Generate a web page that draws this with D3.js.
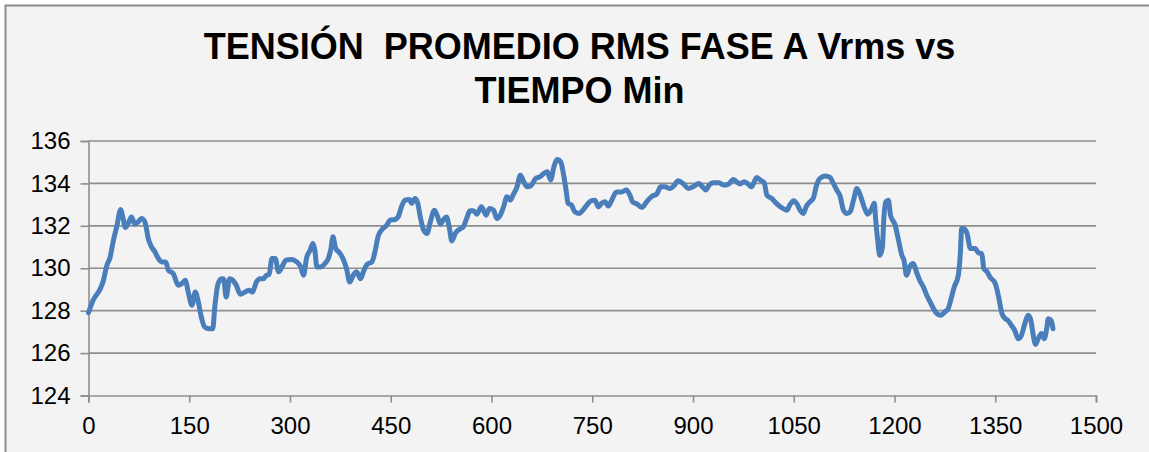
<!DOCTYPE html>
<html>
<head>
<meta charset="utf-8">
<script src="https://cdn.jsdelivr.net/npm/d3@7"></script>
<style>
  html, body { margin: 0; padding: 0; background: #ffffff; }
  svg { display: block; }
</style>
</head>
<body>
<svg id="chart" width="1149" height="452"></svg>
<script>
// Chart data
const titleLines = ['TENSIÓN  PROMEDIO RMS FASE A Vrms vs', 'TIEMPO Min'];
const xTicks = [0, 150, 300, 450, 600, 750, 900, 1050, 1200, 1350, 1500];
const yTicks = [124, 126, 128, 130, 132, 134, 136];

const minutes = [
  0, 7, 17, 22, 27, 32, 37, 42, 48, 51, 55, 59, 64, 69, 74, 79, 84, 89, 94, 99,
  104, 109, 115, 119, 126, 134, 139, 144, 149, 154, 159, 163, 168, 173, 180, 185, 188, 193, 198, 201,
  205, 210, 215, 220, 226, 233, 239, 244, 250, 255, 260, 265, 269, 273, 278, 283, 288, 294, 302, 310,
  316, 320, 325, 330, 334, 337, 340, 345, 352, 357, 361, 364, 368, 374, 379, 384, 389, 395, 399, 405,
  410, 415, 422, 427, 431, 437, 444, 449, 456, 461, 466, 471, 478, 481, 486, 490, 494, 499, 504, 509,
  515, 519, 524, 528, 533, 537, 541, 546, 552, 558, 563, 568, 573, 578, 585, 592, 597, 603, 608, 613,
  618, 623, 628, 632, 638, 643, 648, 653, 658, 666, 672, 678, 683, 688, 693, 698, 703, 707, 711, 714,
  719, 724, 731, 736, 742, 748, 754, 759, 764, 769, 774, 779, 786, 794, 801, 806, 810, 816, 824, 831,
  839, 846, 852, 858, 866, 871, 878, 886, 893, 900, 909, 914, 919, 924, 930, 939, 945, 953, 960, 965,
  970, 976, 982, 987, 995, 1000, 1006, 1010, 1017, 1022, 1027, 1034, 1040, 1044, 1050, 1055, 1060, 1064, 1069, 1074,
  1079, 1084, 1089, 1097, 1104, 1109, 1114, 1119, 1124, 1129, 1134, 1139, 1144, 1149, 1155, 1160, 1165, 1170, 1172, 1175,
  1178, 1182, 1184, 1187, 1191, 1194, 1201, 1206, 1211, 1214, 1218, 1223, 1228, 1233, 1238, 1243, 1248, 1253, 1258, 1263,
  1269, 1275, 1280, 1285, 1289, 1295, 1298, 1300, 1303, 1308, 1313, 1320, 1325, 1330, 1333, 1338, 1342, 1350, 1355, 1360,
  1365, 1369, 1374, 1379, 1384, 1389, 1394, 1399, 1403, 1407, 1410, 1414, 1419, 1423, 1427, 1429, 1433, 1436
];

const vrms = [
  127.9, 128.5, 129.0, 129.4, 130.1, 130.5, 131.3, 131.95, 132.77, 132.42, 131.92, 132.11, 132.42, 132.08, 132.19, 132.35, 132.19, 131.4, 131.0, 130.77,
  130.46, 130.3, 130.3, 129.9, 129.75, 129.2, 129.28, 129.43, 128.8, 128.25, 128.88, 128.49, 127.7, 127.23, 127.15, 127.15, 128.17, 129.28, 129.51, 129.5,
  128.65, 129.51, 129.43, 129.2, 128.77, 128.88, 128.96, 128.88, 129.35, 129.51, 129.5, 129.67, 129.7, 130.46, 130.46, 129.83, 130.06, 130.38, 130.41, 130.3,
  130.06, 129.67, 130.53, 130.85, 131.17, 130.85, 130.06, 130.06, 130.22, 130.46, 130.93, 131.48, 130.93, 130.72, 130.45, 130.0, 129.35, 129.72, 129.83, 129.51,
  129.9, 130.19, 130.3, 130.85, 131.48, 131.83, 132.03, 132.27, 132.3, 132.42, 132.9, 133.21, 133.24, 133.06, 133.29, 133.09, 132.42, 131.8, 131.64, 132.19,
  132.74, 132.5, 132.08, 132.27, 132.42, 131.95, 131.29, 131.64, 131.83, 131.95, 132.35, 132.71, 132.71, 132.55, 132.9, 132.5, 132.82, 132.74, 132.35, 132.5,
  132.9, 133.37, 133.21, 133.45, 133.84, 134.39, 134.08, 133.84, 133.87, 134.24, 134.31, 134.47, 134.55, 134.16, 134.79, 135.13, 135.02, 134.47, 133.69, 133.06,
  132.98, 132.66, 132.58, 132.74, 132.98, 133.18, 133.21, 132.9, 133.06, 133.13, 132.93, 133.21, 133.6, 133.6, 133.69, 133.45, 133.13, 133.04, 132.87, 133.13,
  133.4, 133.5, 133.84, 133.84, 133.76, 133.87, 134.13, 133.97, 133.76, 133.84, 134.0, 133.84, 133.69, 133.92, 134.03, 134.03, 133.92, 133.97, 134.19, 134.08,
  133.97, 134.08, 133.97, 133.84, 134.28, 134.16, 134.03, 133.45, 133.29, 133.13, 132.98, 132.82, 132.74, 132.98, 133.18, 133.02, 132.71, 132.58, 132.93, 133.13,
  133.29, 133.92, 134.24, 134.35, 134.28, 134.0, 133.69, 133.4, 132.74, 132.58, 132.66, 133.21, 133.76, 133.45, 132.87, 132.55, 132.74, 133.06, 132.27, 131.32,
  130.61, 131.0, 132.27, 133.13, 133.21, 132.5, 132.03, 131.32, 130.6, 130.38, 129.67, 130.1, 130.22, 129.8, 129.4, 129.12, 128.73, 128.41, 128.1, 127.86,
  127.78, 127.94, 128.1, 128.65, 129.12, 129.67, 130.69, 131.87, 131.87, 131.64, 130.93, 130.93, 130.73, 130.69, 129.98, 129.83, 129.59, 129.28, 128.65, 127.86,
  127.62, 127.54, 127.31, 127.07, 126.68, 126.84, 127.39, 127.78, 127.54, 126.76, 126.41, 126.68, 126.92, 126.68, 127.23, 127.62, 127.54, 127.15
];

const points = minutes.map((t, i) => ({ t: t, v: vrms[i] }));

// Layout
const plot = { left: 88.5, right: 1096, top: 141, bottom: 395.5 };
const gridColor = '#8e8e8e';
const lineColor = '#4a7ebb';
const fontFamily = '"Liberation Sans", Arial, sans-serif';

const svg = d3.select('#chart');

// Chart area background + frame (frame runs off the right/bottom edge)
svg.append('rect')
  .attr('x', 5.5)
  .attr('y', 5.5)
  .attr('width', 1160)
  .attr('height', 470)
  .attr('fill', '#f3f3f3')
  .attr('stroke', '#8c8c8c')
  .attr('stroke-width', 2);

// Title
const title = svg.append('text')
  .attr('text-anchor', 'middle')
  .style('font-family', fontFamily)
  .style('font-size', '36px')
  .style('font-weight', 'bold')
  .style('white-space', 'pre')
  .attr('fill', '#000000');

titleLines.forEach((line, i) => {
  title.append('tspan')
    .attr('x', 579.5)
    .attr('y', 59 + i * 44)
    .text(line);
});

// Scales
const x = d3.scaleLinear().domain([0, 1500]).range([plot.left, plot.right]);
const y = d3.scaleLinear().domain([124, 136]).range([plot.bottom, plot.top]);

// Horizontal gridlines
svg.append('g')
  .attr('class', 'grid')
  .selectAll('line')
  .data(yTicks.filter(d => d !== 124))
  .join('line')
  .attr('x1', plot.left)
  .attr('x2', plot.right)
  .attr('y1', d => y(d))
  .attr('y2', d => y(d))
  .attr('stroke', gridColor)
  .attr('stroke-width', 1.6);

// Y axis
const yAxis = svg.append('g')
  .attr('transform', `translate(${plot.left},0)`)
  .call(d3.axisLeft(y).tickValues(yTicks).tickSize(8).tickPadding(10).tickFormat(d3.format('d')));

// X axis
const xAxis = svg.append('g')
  .attr('transform', `translate(0,${plot.bottom})`)
  .call(d3.axisBottom(x).tickValues(xTicks).tickSize(7).tickPadding(14).tickFormat(d3.format('d')));

[yAxis, xAxis].forEach(ax => {
  ax.select('.domain').attr('stroke', gridColor).attr('stroke-width', 1.6);
  ax.selectAll('.tick line').attr('stroke', gridColor).attr('stroke-width', 1.6);
  ax.selectAll('.tick text')
    .style('font-family', fontFamily)
    .style('font-size', '24px')
    .attr('fill', '#000000');
});

// Series line
const line = d3.line()
  .x(d => x(d.t))
  .y(d => y(d.v))
  .curve(d3.curveMonotoneX);

svg.append('path')
  .datum(points)
  .attr('d', line)
  .attr('fill', 'none')
  .attr('stroke', lineColor)
  .attr('stroke-width', 5)
  .attr('stroke-linejoin', 'round')
  .attr('stroke-linecap', 'round');
</script>
</body>
</html>
